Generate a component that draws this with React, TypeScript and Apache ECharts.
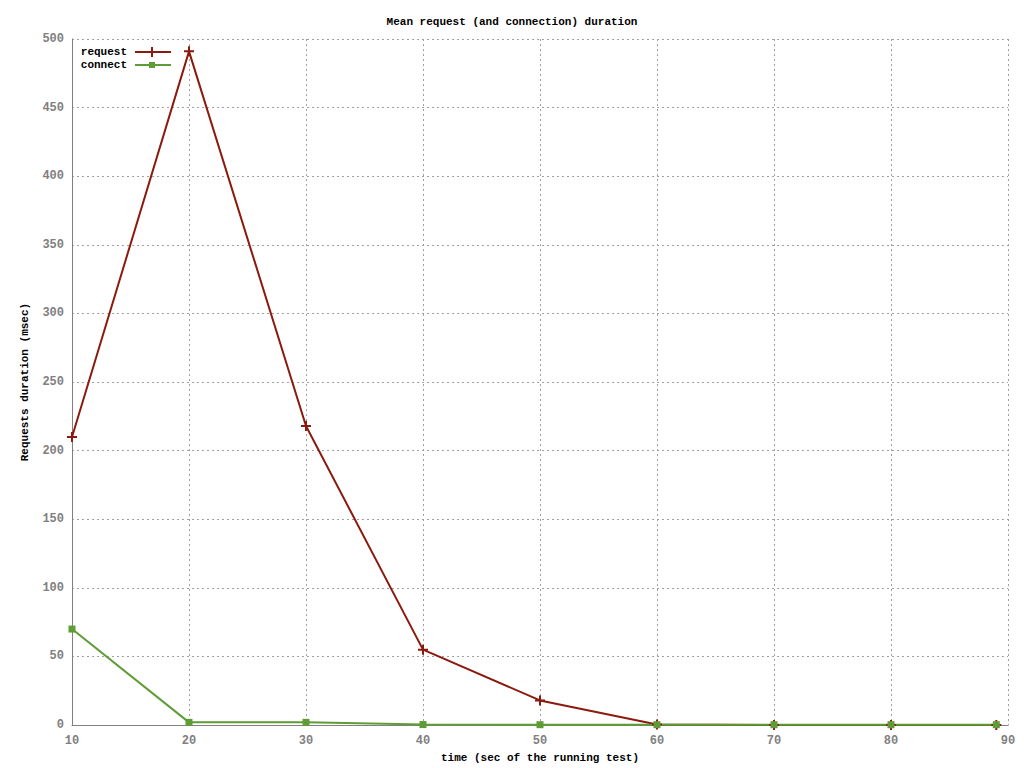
import { useEffect, useRef } from 'react'
import * as echarts from 'echarts'

const times = [10, 20, 30, 40, 50, 60, 70, 80, 89]
const requestMs = [210, 491, 218, 55, 18, 0.5, 0, 0, 0]
const connectMs = [70, 2, 2, 0.4, 0.3, 0.3, 0.3, 0.3, 0.3]

const FONT = '"Liberation Mono", "DejaVu Sans Mono", monospace'
const PLUS = 'path://M4,0 L6,0 L6,4 L10,4 L10,6 L6,6 L6,10 L4,10 L4,6 L0,6 L0,4 L4,4 Z'

export default function App() {
  const chartRef = useRef<HTMLDivElement>(null)

  useEffect(() => {
    if (!chartRef.current) return
    const chart = echarts.init(chartRef.current, null, { renderer: 'svg' })
    const grid = { color: '#a0a0a0', type: [2, 3] as any, width: 1 }

    chart.setOption({
      animation: false,
      backgroundColor: '#fff',
      title: {
        text: 'Mean request (and connection) duration',
        left: 'center',
        top: 11,
        textStyle: { fontFamily: FONT, fontSize: 11, fontWeight: 'bold', color: '#000' }
      },
      grid: { left: 72, top: 39, width: 936, height: 687 },
      xAxis: {
        type: 'value',
        min: 10,
        max: 90,
        interval: 10,
        name: 'time (sec of the running test)',
        nameLocation: 'middle',
        nameGap: 26,
        nameTextStyle: { fontFamily: FONT, fontSize: 11, fontWeight: 'bold', color: '#000' },
        axisLine: { lineStyle: { color: '#808080' } },
        axisTick: { show: false },
        axisLabel: { fontFamily: FONT, fontSize: 12, fontWeight: 'bold', color: '#808080', margin: 10 },
        splitLine: { show: true, lineStyle: grid }
      },
      yAxis: {
        type: 'value',
        min: 0,
        max: 500,
        interval: 50,
        name: 'Requests duration (msec)',
        nameLocation: 'middle',
        nameGap: 42,
        nameTextStyle: { fontFamily: FONT, fontSize: 11, fontWeight: 'bold', color: '#000' },
        axisLine: { show: true, lineStyle: { color: '#808080' } },
        axisTick: { show: false },
        axisLabel: { fontFamily: FONT, fontSize: 12, fontWeight: 'bold', color: '#808080', margin: 8 },
        splitLine: { show: true, lineStyle: grid }
      },
      series: [
        {
          name: 'request',
          type: 'line',
          data: times.map((t, i) => [t, requestMs[i]]),
          symbol: PLUS,
          symbolSize: 10,
          showAllSymbol: true,
          lineStyle: { color: '#8b1a0e', width: 2 },
          itemStyle: { color: '#8b1a0e' }
        },
        {
          name: 'connect',
          type: 'line',
          data: times.map((t, i) => [t, connectMs[i]]),
          symbol: 'rect',
          symbolSize: 7,
          showAllSymbol: true,
          lineStyle: { color: '#5e9c36', width: 2 },
          itemStyle: { color: '#5e9c36' }
        }
      ],
      graphic: [
        { type: 'text', x: 127, y: 52, style: { text: 'request', align: 'right', verticalAlign: 'middle', font: `bold 11px ${FONT}`, fill: '#000' } },
        { type: 'line', shape: { x1: 135, y1: 52, x2: 171, y2: 52 }, style: { stroke: '#8b1a0e', lineWidth: 2 } },
        { type: 'line', shape: { x1: 152, y1: 47, x2: 152, y2: 57 }, style: { stroke: '#8b1a0e', lineWidth: 2 } },
        { type: 'text', x: 127, y: 65, style: { text: 'connect', align: 'right', verticalAlign: 'middle', font: `bold 11px ${FONT}`, fill: '#000' } },
        { type: 'line', shape: { x1: 135, y1: 65, x2: 171, y2: 65 }, style: { stroke: '#5e9c36', lineWidth: 2 } },
        { type: 'rect', shape: { x: 149, y: 62, width: 6, height: 6 }, style: { fill: '#5e9c36' } }
      ]
    })

    return () => chart.dispose()
  }, [])

  return (
    <div
      ref={chartRef}
      style={{ position: 'fixed', left: 0, top: 0, width: 1024, height: 768 }}
    />
  )
}
